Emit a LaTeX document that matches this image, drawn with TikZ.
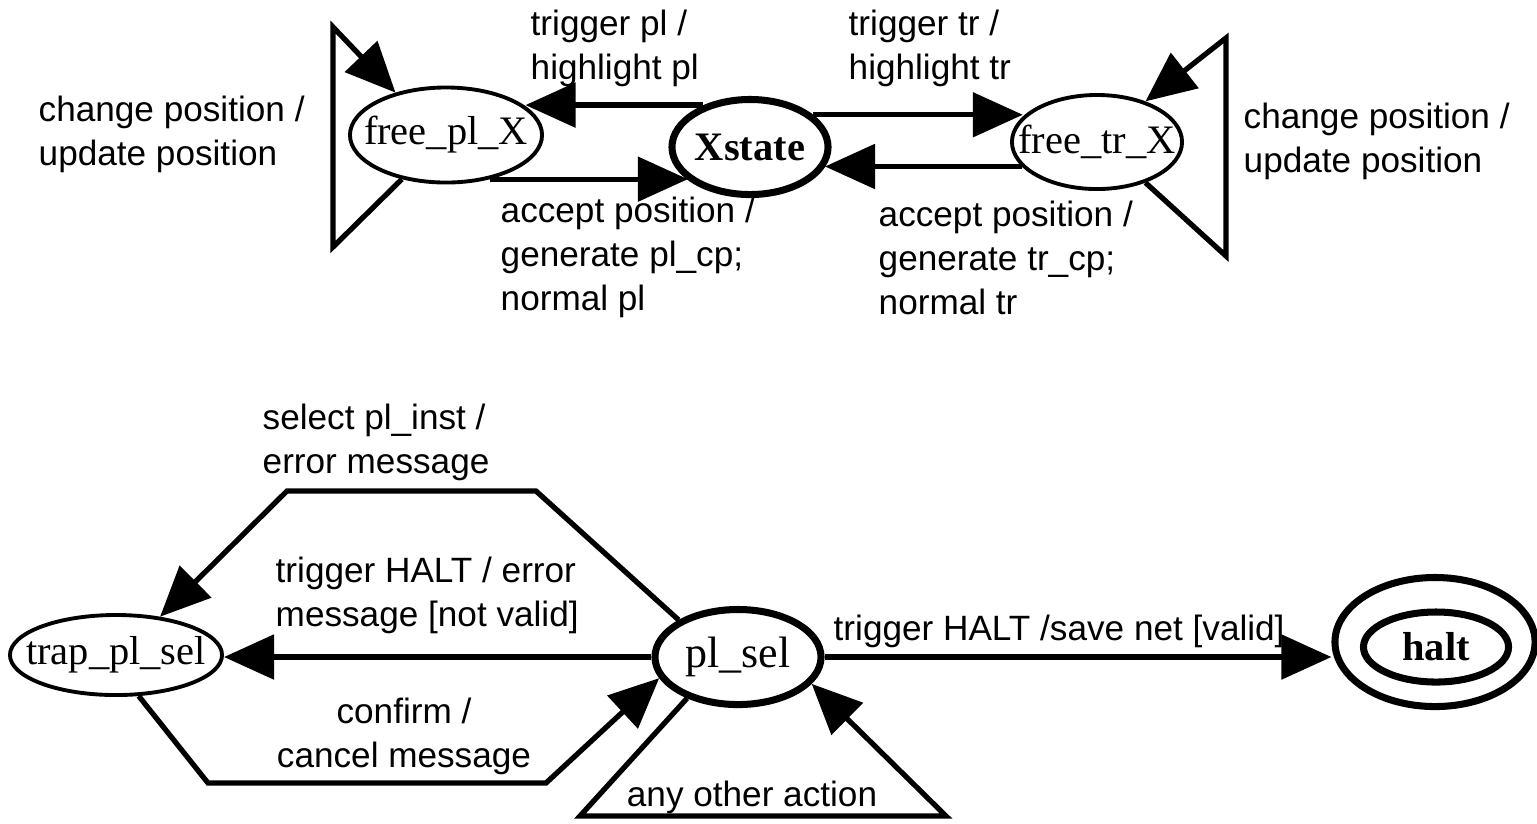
\documentclass[tikz,border=0pt]{standalone}
\usepackage{fontspec}
\setmainfont{Liberation Serif}
\setsansfont{Liberation Sans}
\usetikzlibrary{arrows.meta,shapes.geometric}

\begin{document}
\begin{tikzpicture}
[x=0.01cm, y=-0.01cm, font=\sffamily\fontsize{10}{12.5}\selectfont]
\tikzstyle{state}=[ellipse, draw, line width=1.1pt, fill=white, inner xsep=-0.3cm, inner ysep=-0.1cm, font=\rmfamily\fontsize{11.5}{13}\selectfont]
\tikzstyle{main}=[state, line width=2pt]
\tikzstyle{conn}=[line width=1.5pt, -{Triangle[length=0.5cm, width=0.44cm]}]
\tikzstyle{lbl}=[align=left, inner sep=0pt, anchor=west]
\useasboundingbox (0,0) rectangle (1537,823);

% states
\node[state, minimum width=1.92cm, minimum height=0.95cm]	(fpl)	at (446,135)	{free\_pl\_X};
\node[main, minimum width=1.56cm, minimum height=0.95cm, font=\rmfamily\bfseries\fontsize{11.5}{13}\selectfont]	(xst)	at (750,147)	{Xstate};
\node[state, minimum width=1.7cm, minimum height=0.94cm]	(ftr)	at (1097,142)	{free\_tr\_X};
\node[state, minimum width=2.12cm, minimum height=0.8cm]	(trap)	at (116,655)	{trap\_pl\_sel};
\node[main, minimum width=1.66cm, minimum height=0.95cm, font=\rmfamily\fontsize{12.5}{14}\selectfont]	(plsel)	at (738,657)	{pl\_sel};
\node[main, minimum width=2.0cm, minimum height=1.29cm]	(haltout)	at (1435,642)	{};
\node[main, minimum width=1.45cm, minimum height=0.7cm, font=\rmfamily\bfseries\fontsize{11.5}{13}\selectfont]	(halt)	at (1436,647)	{halt};

% loop corners
\coordinate (fplTop) at (333,27);
\coordinate (fplBot) at (333,247);
\coordinate (ftrTop) at (1226,38);
\coordinate (ftrBot) at (1226,256);
\coordinate (selA) at (536,491);
\coordinate (selB) at (287,491);
\coordinate (cnfA) at (208,783);
\coordinate (cnfB) at (546,783);
\coordinate (othA) at (580,816);
\coordinate (othB) at (946,816);

% labels
\node[lbl]	(fplloop)	at (38,134)	{change position /\\update position};
\node[lbl]	(ftrloop)	at (1243,141)	{change position /\\update position};
\node[lbl]	(trigpl)	at (530,48)	{trigger pl /\\highlight pl};
\node[lbl]	(trigtr)	at (848,48)	{trigger tr /\\highlight tr};
\node[lbl]	(accpl)	at (500,257)	{accept position /\\generate pl\_cp;\\normal pl};
\node[lbl]	(acctr)	at (878,258)	{accept position /\\generate tr\_cp;\\normal tr};
\node[lbl]	(selinst)	at (262,442)	{select pl\_inst /\\error message};
\node[lbl]	(trighalt)	at (275,595)	{trigger HALT / error\\message [not valid]};
\node[lbl, align=center, anchor=center]	(confirm)	at (404,736)	{confirm /\\cancel message};
\node[lbl]	(savenet)	at (833,631)	{trigger HALT /save net [valid]};
\node[lbl, anchor=center]	(other)	at (752,797)	{any other action};

% transitions
\draw[conn]	(xst.138) -- (xst.138 -| fpl.20);
\draw[conn]	(fpl.-45) -- (fpl.-45 -| xst.208);
\draw[conn]	(xst.27) -- (xst.27 -| ftr.161);
\draw[conn]	(ftr.198) -- (ftr.198 -| xst.-15);
\draw[conn]	(fpl.225) -- (fplBot) -- (fplTop) -- (fpl.140);
\draw[conn]	(ftr.-40) -- (ftrBot) -- (ftrTop) -- (ftr.40);
\draw[conn]	(plsel.west) -- (plsel.west -| trap.east);
\draw[conn]	(plsel.148) -- (selA) -- (selB) -- (trap.41);
\draw[conn]	(trap.-61) -- (cnfA) -- (cnfB) -- (plsel.195);
\draw[conn]	(plsel.219) -- (othA) -- (othB) -- (plsel.-20);
\draw[conn]	(plsel.east) -- (plsel.east -| haltout.west);
\end{tikzpicture}
\end{document}
